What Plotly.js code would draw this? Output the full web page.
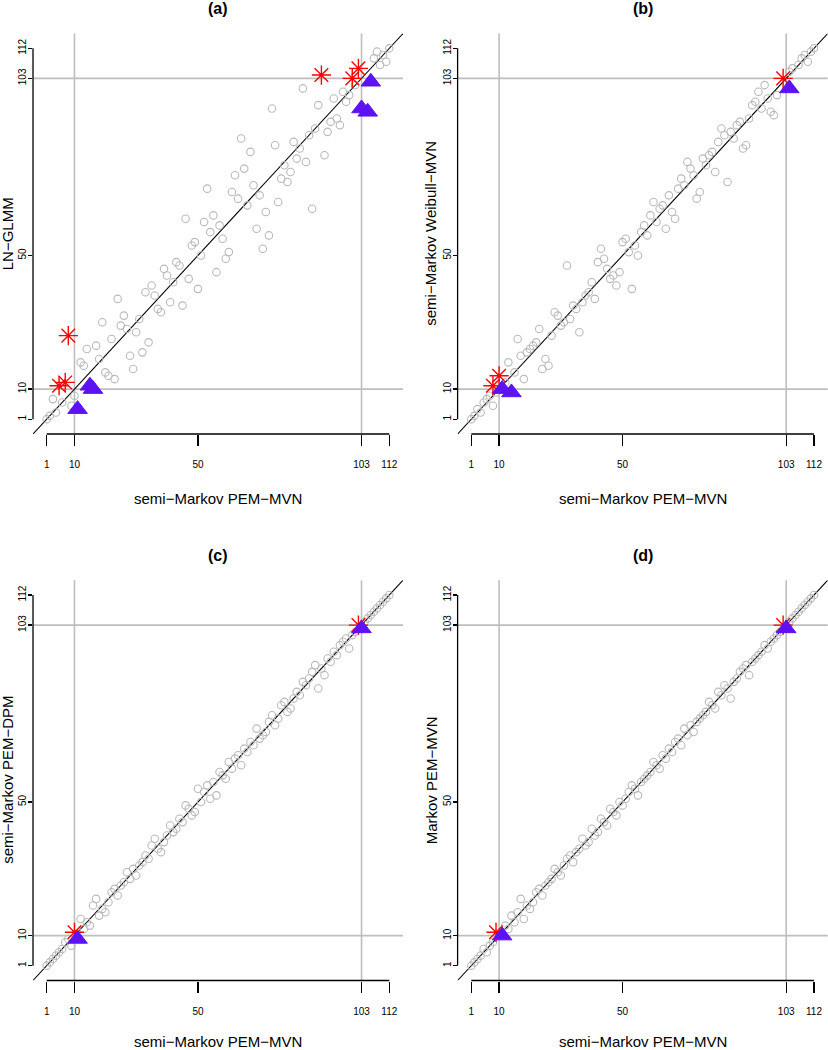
<!DOCTYPE html>
<html>
<head>
<meta charset="utf-8">
<script src="https://cdn.plot.ly/plotly-3.0.1.min.js"></script>
<style>
body { margin: 0; background: #fff; }
</style>
</head>
<body>
<div id="rankPlots" style="width:828px;height:1050px"></div>
<script>
// rank of each study unit under semi-Markov PEM-MVN (x) vs the other models (y)
let rankTicks = [1, 10, 50, 103, 112];
let cutRanks = [10, 103];

// (a) LN-GLMM
let aX = [1, 2, 4, 9, 6, 3, 10, 23, 21, 20, 29, 13, 12, 18, 28, 32, 14, 17, 34, 22, 30, 27, 25, 19, 31, 26, 38, 37, 45, 41, 24, 36, 33, 50, 35, 42, 47, 40, 56, 39, 44, 43, 59, 51, 60, 71, 48, 49, 58, 73, 54, 69, 57, 52, 46, 55, 72, 87, 66, 76, 63, 70, 61, 53, 68, 79, 77, 62, 80, 65, 78, 85, 82, 91, 67, 83, 75, 81, 64, 86, 92, 88, 96, 93, 95, 74, 89, 98, 94, 99, 97, 84, 101, 109, 111, 107, 110, 108, 112];
let aY = [1, 2, 3, 5, 6, 7, 8, 13, 14, 15, 16, 17, 18, 19, 20, 21, 22, 23, 24, 25, 27, 28, 29, 30, 31, 32, 33, 34, 35, 36, 37, 38, 39, 40, 41, 42, 43, 44, 45, 46, 47, 48, 49, 50, 51, 52, 53, 54, 55, 56, 57, 58, 59, 60, 61, 62, 63, 64, 65, 66, 67, 68, 69, 70, 71, 72, 73, 74, 75, 76, 77, 78, 79, 80, 81, 82, 83, 84, 85, 86, 87, 88, 89, 90, 91, 94, 95, 96, 97, 98, 99, 100, 101, 107, 108, 109, 110, 111, 112];
let aStarX = [5, 7, 8, 90, 100, 102];
let aStarY = [11, 12, 26, 104, 103, 106];
let aTriX = [11, 15, 16, 103, 105, 106];
let aTriY = [4, 11, 10, 94, 93, 102];

// (b) semi-Markov Weibull-MVN
let bX = [1, 2, 4, 3, 8, 5, 6, 7, 9, 12, 18, 15, 24, 26, 13, 25, 17, 19, 20, 21, 22, 16, 27, 36, 23, 30, 31, 33, 29, 28, 35, 34, 37, 41, 38, 39, 53, 48, 40, 46, 47, 49, 45, 32, 42, 44, 55, 52, 43, 54, 50, 51, 58, 56, 64, 57, 61, 67, 59, 66, 62, 63, 60, 74, 65, 75, 68, 70, 84, 69, 73, 80, 72, 77, 71, 76, 78, 79, 89, 90, 81, 86, 83, 85, 82, 87, 88, 91, 99, 98, 95, 92, 93, 97, 100, 94, 96, 104, 105, 107, 110, 108, 109, 111, 112];
let bY = [1, 2, 3, 4, 5, 6, 7, 8, 9, 12, 13, 15, 16, 17, 18, 19, 20, 21, 22, 23, 24, 25, 26, 27, 28, 29, 30, 31, 32, 33, 34, 35, 36, 37, 38, 39, 40, 41, 42, 43, 44, 45, 46, 47, 48, 49, 50, 51, 52, 53, 54, 55, 56, 57, 58, 59, 60, 61, 62, 63, 64, 65, 66, 67, 68, 69, 70, 71, 72, 73, 74, 75, 76, 77, 78, 79, 80, 81, 82, 83, 84, 85, 86, 87, 88, 89, 90, 91, 92, 93, 94, 95, 96, 97, 98, 99, 101, 105, 106, 107, 108, 109, 110, 111, 112];
let bStarX = [8, 10, 102];
let bStarY = [11, 14, 103];
let bTriX = [11, 14, 104];
let bTriY = [10, 9, 100];

// (c) semi-Markov PEM-DPM
let cX = [1, 2, 3, 4, 5, 6, 7, 8, 9, 12, 13, 14, 15, 16, 17, 18, 19, 20, 21, 22, 23, 24, 25, 26, 27, 28, 29, 30, 31, 32, 33, 34, 35, 36, 37, 38, 39, 40, 41, 42, 43, 44, 45, 46, 47, 48, 49, 50, 51, 52, 53, 54, 55, 56, 57, 58, 59, 60, 61, 62, 63, 64, 65, 66, 67, 68, 69, 70, 71, 72, 73, 74, 75, 76, 77, 78, 79, 80, 81, 82, 83, 84, 85, 86, 87, 88, 89, 90, 91, 92, 93, 94, 95, 96, 97, 98, 99, 100, 101, 104, 105, 106, 107, 108, 109, 110, 111, 112];
let cY = [1, 2, 3, 4, 5, 6, 8, 9, 7, 15, 12, 14, 13, 19, 21, 16, 18, 17, 20, 23, 24, 22, 25, 26, 29, 27, 30, 28, 31, 32, 34, 33, 37, 39, 36, 35, 38, 40, 43, 41, 42, 45, 44, 49, 48, 46, 47, 54, 50, 53, 55, 51, 56, 52, 59, 58, 57, 62, 60, 63, 64, 61, 66, 65, 68, 67, 72, 69, 70, 71, 74, 76, 73, 75, 79, 80, 77, 78, 81, 83, 82, 86, 85, 87, 89, 91, 84, 90, 88, 93, 92, 95, 94, 97, 98, 99, 96, 100, 101, 104, 105, 106, 107, 108, 109, 110, 111, 112];
let cStarX = [10, 102];
let cStarY = [11, 103];
let cTriX = [11, 103];
let cTriY = [9, 102];

// (d) Markov PEM-MVN
let dX = [1, 2, 3, 4, 5, 6, 7, 8, 12, 13, 14, 15, 16, 17, 18, 19, 20, 21, 22, 23, 24, 25, 26, 27, 28, 29, 30, 31, 32, 33, 34, 35, 36, 37, 38, 39, 40, 41, 42, 43, 44, 45, 46, 47, 48, 49, 50, 51, 52, 53, 54, 55, 56, 57, 58, 59, 60, 61, 62, 63, 64, 65, 66, 67, 68, 69, 70, 71, 72, 73, 74, 75, 76, 77, 78, 79, 80, 81, 82, 83, 84, 85, 86, 87, 88, 89, 90, 91, 92, 93, 94, 95, 96, 97, 98, 99, 100, 101, 104, 105, 106, 107, 108, 109, 110, 111, 112];
let dY = [1, 2, 3, 4, 6, 5, 7, 8, 13, 12, 16, 14, 17, 21, 15, 19, 18, 20, 23, 24, 22, 25, 26, 27, 30, 29, 28, 31, 33, 34, 32, 35, 36, 39, 37, 38, 42, 40, 41, 45, 44, 43, 48, 47, 46, 50, 49, 51, 53, 55, 54, 52, 56, 57, 58, 59, 62, 61, 60, 64, 63, 66, 65, 68, 69, 67, 72, 70, 73, 71, 74, 75, 76, 77, 80, 79, 78, 83, 82, 85, 84, 81, 86, 87, 89, 90, 91, 88, 92, 93, 94, 95, 97, 96, 98, 99, 100, 101, 104, 105, 106, 107, 108, 109, 110, 111, 112];
let dStarX = [9, 102];
let dStarY = [11, 103];
let dTriX = [11, 103];
let dTriY = [10, 102];

let yTitles = ['LN\u2212GLMM', 'semi\u2212Markov Weibull\u2212MVN', 'semi\u2212Markov PEM\u2212DPM', 'Markov PEM\u2212MVN'];
let panelNames = ['(a)', '(b)', '(c)', '(d)'];
let xTitle = 'semi\u2212Markov PEM\u2212MVN';

let buildRankPlots = function() {

    let lo = 1 - 0.04 * 111;
    let hi = 112 + 0.04 * 111;
    let fontFam = 'Liberation Sans, Arial, sans-serif';

    // pixel boxes of the four plot regions, in a 828x1050 page
    let colX = [[33, 403], [457.6, 827.7]];
    let rowY = [[33.5, 434], [580.2, 980.5]];
    let yTitleX = [7.5, 431];
    let mainY = [8.5, 555];
    let xTitleY = [498, 1041];

    let panels = [
        {x: aX, y: aY, sx: aStarX, sy: aStarY, tx: aTriX, ty: aTriY},
        {x: bX, y: bY, sx: bStarX, sy: bStarY, tx: bTriX, ty: bTriY},
        {x: cX, y: cY, sx: cStarX, sy: cStarY, tx: cTriX, ty: cTriY},
        {x: dX, y: dY, sx: dStarX, sy: dStarY, tx: dTriX, ty: dTriY}
    ];

    var data = [];
    var layout = {
        width: 828,
        height: 1050,
        margin: {l: 0, r: 0, t: 0, b: 0},
        paper_bgcolor: '#fff',
        plot_bgcolor: 'rgba(0,0,0,0)',
        showlegend: false,
        shapes: [],
        annotations: []
    };

    for(let i = 0; i < panels.length; i++) {
        let p = panels[i];
        let n = i == 0 ? '' : String(i + 1);
        let col = i % 2;
        let row = Math.floor(i / 2);
        let xa = 'x' + n;
        let ya = 'y' + n;

        data.push({
            x: p.x, y: p.y, xaxis: xa, yaxis: ya,
            type: 'scatter', mode: 'markers', hoverinfo: 'skip',
            marker: {symbol: 'circle-open', size: 7.5, color: '#b9b9b9', line: {width: 1.1}}
        });
        data.push({
            x: p.sx, y: p.sy, xaxis: xa, yaxis: ya,
            type: 'scatter', mode: 'markers', hoverinfo: 'skip',
            marker: {symbol: 'asterisk-open', size: 16, color: '#ff0000', line: {width: 1.4}}
        });
        data.push({
            x: p.tx, y: p.ty, xaxis: xa, yaxis: ya,
            type: 'scatter', mode: 'markers', hoverinfo: 'skip',
            marker: {symbol: 'triangle-up', size: 17, color: '#5c12f2', line: {width: 1, color: '#5c12f2'}}
        });

        let xDom = [colX[col][0] / 828, colX[col][1] / 828];
        let yDom = [1 - rowY[row][1] / 1050, 1 - rowY[row][0] / 1050];

        layout['xaxis' + n] = {
            domain: xDom, anchor: ya, range: [lo, hi],
            tickvals: rankTicks, ticks: 'outside', ticklen: 11, tickwidth: 1.3, tickcolor: '#000',
            ticklabelstandoff: 10,
            tickfont: {family: fontFam, size: 10, color: '#000'},
            showgrid: false, zeroline: false, showline: false, fixedrange: true
        };
        layout['yaxis' + n] = {
            domain: yDom, anchor: xa, range: [lo, hi],
            tickvals: rankTicks, ticks: 'outside', ticklen: 4, tickwidth: 1.3, tickcolor: '#000',
            tickangle: -90, ticklabelstandoff: -2,
            tickfont: {family: fontFam, size: 10, color: '#000'},
            showgrid: false, zeroline: false, showline: false, fixedrange: true
        };

        // grey reference lines at ranks 10 and 103
        for(let j = 0; j < cutRanks.length; j++) {
            layout.shapes.push({
                type: 'line', layer: 'below', xref: xa, yref: ya + ' domain',
                x0: cutRanks[j], x1: cutRanks[j], y0: 0, y1: 1,
                line: {color: '#bebebe', width: 1.6}
            });
            layout.shapes.push({
                type: 'line', layer: 'below', xref: xa + ' domain', yref: ya,
                x0: 0, x1: 1, y0: cutRanks[j], y1: cutRanks[j],
                line: {color: '#bebebe', width: 1.6}
            });
        }

        // identity line
        layout.shapes.push({
            type: 'line', layer: 'below', xref: xa, yref: ya,
            x0: lo, y0: lo, x1: hi, y1: hi,
            line: {color: '#000', width: 1.1}
        });

        // R-style axis lines running from first to last tick only
        layout.shapes.push({
            type: 'line', xref: xa, yref: ya + ' domain',
            x0: rankTicks[0], x1: rankTicks[rankTicks.length - 1], y0: 0, y1: 0,
            line: {color: '#000', width: 1.3}
        });
        layout.shapes.push({
            type: 'line', xref: xa + ' domain', yref: ya,
            x0: 0, x1: 0, y0: rankTicks[0], y1: rankTicks[rankTicks.length - 1],
            line: {color: '#000', width: 1.3}
        });

        let midX = (colX[col][0] + colX[col][1]) / 2 / 828;
        let midY = 1 - (rowY[row][0] + rowY[row][1]) / 2 / 1050;

        layout.annotations.push({
            text: '<b>' + panelNames[i] + '</b>', xref: 'paper', yref: 'paper',
            x: midX, y: 1 - mainY[row] / 1050, xanchor: 'center', yanchor: 'middle',
            showarrow: false, font: {family: fontFam, size: 16, color: '#000'}
        });
        layout.annotations.push({
            text: xTitle, xref: 'paper', yref: 'paper',
            x: midX, y: 1 - xTitleY[row] / 1050, xanchor: 'center', yanchor: 'middle',
            showarrow: false, font: {family: fontFam, size: 15, color: '#000'}
        });
        layout.annotations.push({
            text: yTitles[i], xref: 'paper', yref: 'paper', textangle: -90,
            x: yTitleX[col] / 828, y: midY, xanchor: 'center', yanchor: 'middle',
            showarrow: false, font: {family: fontFam, size: 15, color: '#000'}
        });
    }

    Plotly.newPlot('rankPlots', data, layout, {staticPlot: true});
}

buildRankPlots();
</script>
</body>
</html>
